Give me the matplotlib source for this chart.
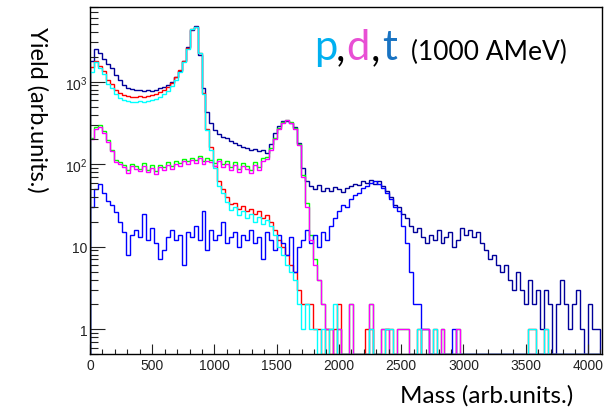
import numpy as np
import matplotlib.pyplot as plt
from matplotlib.ticker import FixedLocator, MultipleLocator, LogLocator, NullFormatter

# counts per 32-unit mass bin (0 .. 4096)
navy = [1800, 2500, 2200, 1900, 1650, 1450, 1200, 1050, 920, 850, 820, 800, 790, 770, 790, 780,
        800, 830, 870, 920, 980, 1150, 1350, 1800, 2600, 4200, 4700, 2100, 850, 430, 320, 260,
        230, 215, 205, 190, 180, 170, 162, 158, 150, 155, 145, 150, 138, 175, 240, 290,
        330, 335, 320, 280, 180, 90, 62, 55, 50, 56, 48, 52, 47, 53, 50, 46,
        52, 55, 58, 56, 62, 60, 64, 58, 62, 55, 48, 40, 32, 30, 25, 22,
        18, 15, 17, 13, 11, 14, 12, 16, 11, 13, 15, 10, 12, 17, 14, 16,
        13, 15, 11, 9, 7, 8, 6, 5, 6, 4, 3, 5, 3, 2, 4, 2,
        3, 1, 3, 2, 0, 2, 4, 2, 1, 2, 3, 1, 0, 2, 1, 1]
red = [1500, 1800, 1550, 1350, 1050, 950, 800, 730, 690, 670, 660, 650, 665, 660, 670, 690,
       710, 740, 790, 860, 960, 1130, 1380, 1800, 2550, 4300, 4650, 2250, 720, 270, 160, 95,
       62, 50, 40, 33, 34, 29, 31, 27, 29, 25, 27, 22, 24, 20, 16, 12,
       10, 8, 6, 5, 3, 2, 2, 2, 1, 1, 0, 1, 0, 1, 2, 0,
       0, 0, 0, 0, 0, 1, 1, 0, 0, 0, 1, 1, 0, 0, 0, 0,
       0, 0, 1, 0, 0, 0, 1, 0, 0, 0, 0, 0, 0, 0, 0, 0,
       0, 0, 0, 0, 0, 0, 0, 0, 0, 0, 0, 0, 0, 0, 1, 1,
       0, 0, 1, 0, 0, 0, 0, 0, 0, 0, 0, 0, 0, 0, 0, 0]
green = [210, 285, 300, 250, 195, 150, 112, 106, 98, 84, 102, 94, 88, 103, 86, 97,
         82, 99, 92, 106, 95, 110, 103, 116, 108, 120, 112, 126, 108, 118, 112, 103,
         116, 100, 108, 92, 106, 88, 103, 95, 86, 105, 92, 118, 122, 158, 208, 272,
         328, 345, 325, 275, 175, 75, 34, 14, 7, 4, 2, 1, 1, 0, 1, 0,
         0, 2, 0, 0, 0, 0, 2, 0, 0, 1, 1, 0, 0, 1, 1, 1,
         0, 0, 0, 1, 1, 0, 0, 0, 1, 0, 0, 0, 1, 0, 0, 0,
         0, 0, 0, 0, 0, 0, 0, 0, 0, 0, 0, 0, 0, 0, 0, 0,
         0, 0, 0, 0, 0, 0, 0, 0, 0, 0, 0, 0, 0, 0, 0, 0]
cyan = [1300, 1750, 1450, 1250, 950, 850, 700, 640, 600, 580, 575, 570, 580, 575, 585, 600,
        620, 650, 700, 780, 880, 1050, 1300, 1750, 2500, 4300, 4600, 2200, 700, 260, 150, 90,
        55, 45, 35, 28, 30, 24, 27, 22, 25, 20, 23, 19, 21, 18, 14, 10,
        8, 6, 5, 4, 2, 1, 2, 1, 1, 0, 1, 0, 1, 2, 0, 0,
        0, 0, 0, 0, 0, 0, 1, 0, 0, 0, 1, 1, 0, 0, 0, 0,
        0, 0, 1, 0, 0, 0, 1, 0, 0, 0, 0, 0, 0, 0, 0, 0,
        0, 0, 0, 0, 0, 0, 0, 0, 0, 0, 0, 0, 0, 0, 1, 1,
        0, 0, 1, 0, 0, 0, 0, 0, 0, 0, 0, 0, 0, 0, 0, 0]
magenta = [200, 270, 285, 240, 185, 145, 105, 100, 92, 78, 95, 88, 82, 96, 80, 90,
           76, 92, 85, 98, 88, 102, 95, 108, 100, 112, 104, 118, 100, 110, 105, 96,
           108, 92, 100, 85, 98, 80, 95, 88, 78, 98, 85, 110, 115, 150, 200, 265,
           320, 340, 320, 270, 170, 70, 30, 12, 6, 4, 2, 1, 1, 0, 1, 0,
           0, 2, 0, 0, 0, 0, 2, 0, 0, 1, 1, 0, 0, 1, 1, 1,
           0, 0, 0, 1, 1, 0, 0, 0, 1, 0, 0, 0, 1, 0, 0, 0,
           0, 0, 0, 0, 0, 0, 0, 0, 0, 0, 0, 0, 0, 0, 0, 0,
           0, 0, 0, 0, 0, 0, 0, 0, 0, 0, 0, 0, 0, 0, 0, 0]
blue = [30, 50, 58, 45, 36, 32, 26, 20, 15, 8, 14, 16, 13, 25, 12, 17,
        11, 7, 9, 13, 16, 12, 14, 6, 15, 13, 18, 12, 27, 9, 16, 12,
        14, 20, 11, 13, 15, 10, 14, 12, 16, 11, 13, 7, 15, 12, 9, 14,
        11, 8, 13, 5, 10, 12, 16, 11, 14, 10, 15, 12, 18, 22, 27, 32,
        30, 38, 42, 45, 52, 55, 60, 63, 58, 52, 45, 38, 30, 27, 18, 11,
        5, 2, 2, 1, 1, 0, 0, 0, 0, 0, 0, 1, 0, 0, 0, 0,
        0, 0, 0, 0, 0, 0, 0, 0, 0, 0, 0, 0, 0, 0, 0, 0,
        0, 0, 0, 0, 0, 0, 0, 0, 0, 0, 0, 0, 0, 0, 0, 0]

BIN = 32
YMIN, YMAX = 0.5, 8000
edges = np.arange(len(navy) + 1) * BIN

plt.rcParams['font.family'] = ['Liberation Sans', 'DejaVu Sans']
plt.rcParams['mathtext.default'] = 'regular'

fig = plt.figure(figsize=(6.12, 4.10), dpi=100)
ax = fig.add_axes([0.147, 0.134, 0.836, 0.846])

hists = [(navy, '#00009a'), (red, '#ff0000'), (green, '#00ff00'),
         (blue, '#0000ff'), (magenta, '#ff00ff'), (cyan, '#00ffff')]
for vals, col in hists:
    # empty bins are drawn along the bottom of the frame, like ROOT does
    ax.stairs(np.clip(vals, YMIN, None), edges, baseline=YMIN, color=col, lw=1.0)

ax.set_yscale('log')
ax.set_ylim(YMIN, YMAX)
ax.set_xlim(0, 4110)

ax.yaxis.set_major_locator(FixedLocator([1, 10, 100, 1000]))
ax.set_yticklabels(['1', '10', '$10^{2}$', '$10^{3}$'])
ax.yaxis.set_minor_locator(LogLocator(base=10, subs=np.arange(2, 10), numticks=20))
ax.yaxis.set_minor_formatter(NullFormatter())
ax.xaxis.set_major_locator(MultipleLocator(500))
ax.xaxis.set_minor_locator(MultipleLocator(100))

ax.tick_params(which='both', direction='in', top=False, right=False, colors='#222222',
               labelsize=10, width=0.8)
ax.tick_params(axis='y', which='major', length=11, pad=2)
ax.tick_params(axis='y', which='minor', length=6)
ax.tick_params(axis='x', which='major', length=7, pad=3)
ax.tick_params(axis='x', which='minor', length=3.5)
for s in ax.spines.values():
    s.set_linewidth(1.0)

fig.text(400 / 612, 1 - 403 / 410, 'Mass (arb.units.)', fontfamily='Lato', fontsize=17.5,
         va='baseline', ha='left')
fig.text(37 / 612, 1 - 110 / 410, 'Yield (arb.units.)', fontfamily='Lato', fontsize=17,
         rotation=270, ha='center', va='center')

base = 1 - 60 / 410
big = 30
fig.text(314 / 612, base, 'p', color='#00b0f0', fontfamily='Lato', fontsize=big, va='baseline')
fig.text(336 / 612, base, ',', color='black', fontfamily='Lato', fontsize=big, va='baseline')
fig.text(346 / 612, base, 'd', color='#e84fd4', fontfamily='Lato', fontsize=big, va='baseline')
fig.text(371 / 612, base, ',', color='black', fontfamily='Lato', fontsize=big, va='baseline')
fig.text(382 / 612, base, 't', color='#1873c2', fontfamily='Lato', fontsize=big, va='baseline')
fig.text(411 / 612, base, '(1000 AMeV)', color='black', fontfamily='Lato', fontsize=19,
         va='baseline')

fig.savefig('out.png', dpi=100)
